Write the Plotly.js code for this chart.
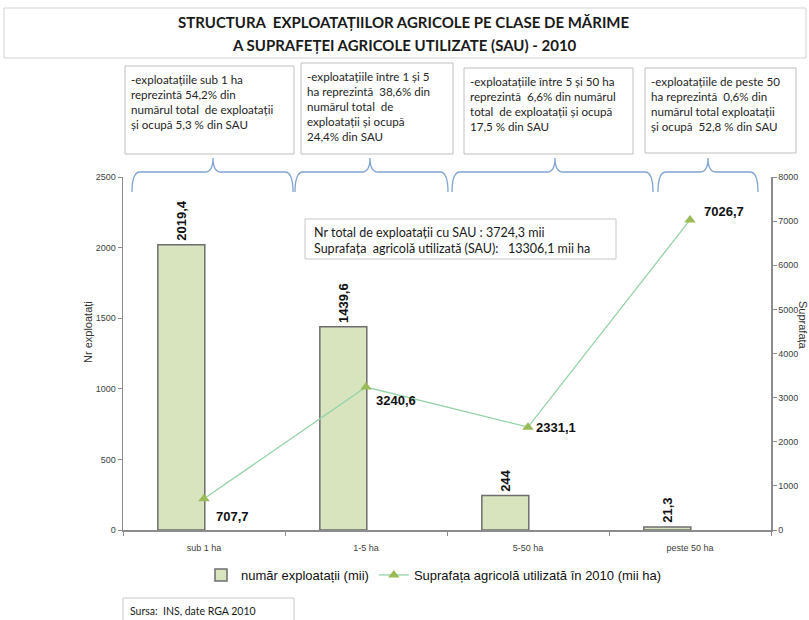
<!DOCTYPE html>
<html>
<head>
<meta charset="utf-8">
<script src="https://cdn.plot.ly/plotly-3.0.1.min.js"></script>
<style>html,body{margin:0;padding:0;background:#fff;}#chart{width:809px;height:620px;}</style>
</head>
<body>
<div id="chart"></div>
<script>
// ---- data ----
const categories = ['sub 1 ha', '1-5 ha', '5-50 ha', 'peste 50 ha'];
const farms = [2019.4, 1439.6, 244, 21.3];               // număr exploatații (mii)
const farmLabels = ['2019,4', '1439,6', '244', '21,3'];
const area = [707.7, 3240.6, 2331.1, 7026.7];            // SAU (mii ha)
const areaLabels = ['707,7', '3240,6', '2331,1', '7026,7'];
const leftTicks = [0, 500, 1000, 1500, 2000, 2500];
const rightTicks = [0, 1000, 2000, 3000, 4000, 5000, 6000, 7000, 8000];
const boxTexts = [
  ['-exploatațiile sub 1 ha', 'reprezintă 54,2% din', 'numărul total  de exploatații', 'și ocupă 5,3 % din SAU'],
  ['-exploatațiile între 1 și 5', 'ha reprezintă  38,6% din', 'numărul total  de', 'exploatații și ocupă', '24,4% din SAU'],
  ['-exploatațiile între 5 și 50 ha', 'reprezintă  6,6% din numărul', 'total  de exploatații și ocupă', '17,5 % din SAU'],
  ['-exploatațiile de peste 50', 'ha reprezintă  0,6% din', 'numărul total exploatații', 'și ocupă  52,8 % din SAU']
];
const totalsText = ['Nr total de exploatații cu SAU : 3724,3 mii', 'Suprafața  agricolă utilizată (SAU):   13306,1 mii ha'];
const titleLines = ['STRUCTURA  EXPLOATAȚIILOR AGRICOLE PE CLASE DE MĂRIME', 'A SUPRAFEȚEI AGRICOLE UTILIZATE (SAU) - 2010'];
const sourceText = 'Sursa:  INS, date RGA 2010';

// ---- geometry helpers (pixel -> paper) ----
const L = 123, T = 177, W = 648, H = 353;
const px = x => (x - L) / W;
const py = y => (T + H - y) / H;
const BAR_W = 0.29, BAR_OFF = -0.285;

const boxRects = [[125, 66, 294, 154], [301, 63, 453, 154], [464, 68, 633, 154], [645, 68, 796, 153]];
const braces = [[132, 213, 293], [295, 370, 448], [452, 555, 653], [658, 708, 758]];

const shapes = [];
const annotations = [];

// title box
shapes.push({type: 'rect', xref: 'paper', yref: 'paper', x0: px(4), x1: px(806), y0: py(8), y1: py(58),
  line: {color: '#d3d3d3', width: 1}, fillcolor: 'rgba(0,0,0,0)'});
titleLines.forEach((t, i) => annotations.push({xref: 'paper', yref: 'paper', x: px(404), y: py(22 + i * 23),
  text: '<b>' + t + '</b>', showarrow: false, xanchor: 'center', yanchor: 'middle',
  font: {family: 'Lato, sans-serif', size: 15, color: '#1a1a1a'}}));

// info boxes
boxRects.forEach((r, i) => {
  shapes.push({type: 'rect', xref: 'paper', yref: 'paper', x0: px(r[0]), x1: px(r[2]), y0: py(r[1]), y1: py(r[3]),
    line: {color: '#bfbfbf', width: 1}, fillcolor: '#fff'});
  annotations.push({xref: 'paper', yref: 'paper', x: px(r[0] + 4), y: py(r[1] + 5),
    text: boxTexts[i].join('<br>'), showarrow: false, xanchor: 'left', yanchor: 'top', align: 'left',
    font: {family: 'Lato, sans-serif', size: 11.6, color: '#262626'}});
});

// braces
braces.forEach(b => {
  const [xl, xt, xr] = b, yb = 192, yh = 172, ytip = 158, r = 8;
  const P = (x, y) => px(x).toFixed(5) + ',' + py(y).toFixed(5);
  const path = 'M' + P(xl, yb) + ' Q' + P(xl, yh) + ' ' + P(xl + r, yh) +
    ' L' + P(xt - r, yh) + ' Q' + P(xt, yh) + ' ' + P(xt, ytip) +
    ' Q' + P(xt, yh) + ' ' + P(xt + r, yh) + ' L' + P(xr - r, yh) +
    ' Q' + P(xr, yh) + ' ' + P(xr, yb);
  shapes.push({type: 'path', xref: 'paper', yref: 'paper', path: path, line: {color: '#7fa3d1', width: 1.3}});
});

// totals box
shapes.push({type: 'rect', xref: 'paper', yref: 'paper', x0: px(305), x1: px(616), y0: py(219), y1: py(259),
  line: {color: '#c8c8c8', width: 1}, fillcolor: '#fff', layer: 'below'});
annotations.push({xref: 'paper', yref: 'paper', x: px(312), y: py(240), text: totalsText.join('<br>'),
  showarrow: false, xanchor: 'left', yanchor: 'middle', align: 'left',
  font: {family: 'Lato, sans-serif', size: 12.5, color: '#1a1a1a'}});

// source box
shapes.push({type: 'rect', xref: 'paper', yref: 'paper', x0: px(123), x1: px(294), y0: py(598), y1: py(622),
  line: {color: '#c8c8c8', width: 1}, fillcolor: '#fff'});
annotations.push({xref: 'paper', yref: 'paper', x: px(128), y: py(611), text: sourceText,
  showarrow: false, xanchor: 'left', yanchor: 'middle',
  font: {family: 'Lato, sans-serif', size: 10.5, color: '#1a1a1a'}});

// axis titles
annotations.push({xref: 'paper', yref: 'paper', x: px(88), y: py(332), text: 'Nr exploatați', textangle: -90,
  showarrow: false, xanchor: 'center', yanchor: 'middle',
  font: {family: 'Liberation Sans, Arial, sans-serif', size: 11, color: '#333'}});
annotations.push({xref: 'paper', yref: 'paper', x: px(795), y: py(325), text: 'Suprafața', textangle: 90,
  showarrow: false, xanchor: 'left', yanchor: 'middle',
  font: {family: 'Liberation Sans, Arial, sans-serif', size: 11, color: '#333'}});

const labelFont = {family: 'Liberation Sans, Arial, sans-serif', size: 13, color: '#111'};

// bar labels (rotated, above bars)
farms.forEach((v, i) => annotations.push({xref: 'x', yref: 'y', x: i + BAR_OFF + BAR_W / 2, y: v,
  text: '<b>' + farmLabels[i] + '</b>', textangle: -90, showarrow: false, xanchor: 'center', yanchor: 'bottom',
  yshift: 2, font: labelFont}));

// line labels
const labelPos = [['left', 'top', 10, -8], ['left', 'top', 8, -4], ['left', 'middle', 6, 0], ['left', 'bottom', 12, -1]];
area.forEach((v, i) => annotations.push({xref: 'x', yref: 'y2', x: categories[i], y: v, text: '<b>' + areaLabels[i] + '</b>',
  showarrow: false, xanchor: labelPos[i][0], yanchor: labelPos[i][1], xshift: labelPos[i][2], yshift: labelPos[i][3],
  font: labelFont}));

const tickFont = {family: 'Liberation Sans, Arial, sans-serif', size: 9, color: '#404040'};

const traces = [
  {type: 'bar', x: categories, y: farms, name: 'număr exploatații (mii)', width: BAR_W, offset: BAR_OFF,
   marker: {color: '#d7e4bd', line: {color: '#6e6e6e', width: 1.5}}, hoverinfo: 'x+y'},
  {type: 'scatter', mode: 'lines+markers', x: categories, y: area, yaxis: 'y2',
   name: 'Suprafața agricolă utilizată în 2010 (mii ha)',
   line: {color: '#95d2a9', width: 1.3}, marker: {symbol: 'triangle-up', size: 10, color: '#9bbb59'}, cliponaxis: false}
];

const layout = {
  width: 809, height: 620,
  margin: {l: L, r: 809 - L - W, t: T, b: 620 - T - H, pad: 0},
  paper_bgcolor: '#fff', plot_bgcolor: '#fff',
  showlegend: true,
  legend: {orientation: 'h', x: px(434), xanchor: 'center', y: py(575), yanchor: 'middle',
    font: {family: 'Liberation Sans, Arial, sans-serif', size: 13, color: '#111'}, itemwidth: 30, tracegroupgap: 0},
  xaxis: {type: 'category', showgrid: false, zeroline: false, showline: true, linecolor: '#8c8c8c', linewidth: 1.5,
    ticks: 'outside', tickfont: tickFont, tickson: 'boundaries', ticklen: 4, tickcolor: '#8c8c8c',
    ticklabelstandoff: 9, fixedrange: true},
  yaxis: {range: [0, 2500], tickvals: leftTicks, showgrid: false, zeroline: false, showline: true,
    linecolor: '#8c8c8c', linewidth: 1.5, ticks: 'outside', ticklen: 4, tickcolor: '#8c8c8c', tickfont: tickFont, fixedrange: true},
  yaxis2: {range: [0, 8000], tickvals: rightTicks, overlaying: 'y', side: 'right', showgrid: false, zeroline: false,
    showline: true, linecolor: '#8c8c8c', linewidth: 1.5, ticks: 'outside', ticklen: 4, tickcolor: '#8c8c8c', tickfont: tickFont, fixedrange: true},
  shapes: shapes,
  annotations: annotations
};

Plotly.newPlot('chart', traces, layout, {displayModeBar: false, staticPlot: true});
</script>
</body>
</html>
